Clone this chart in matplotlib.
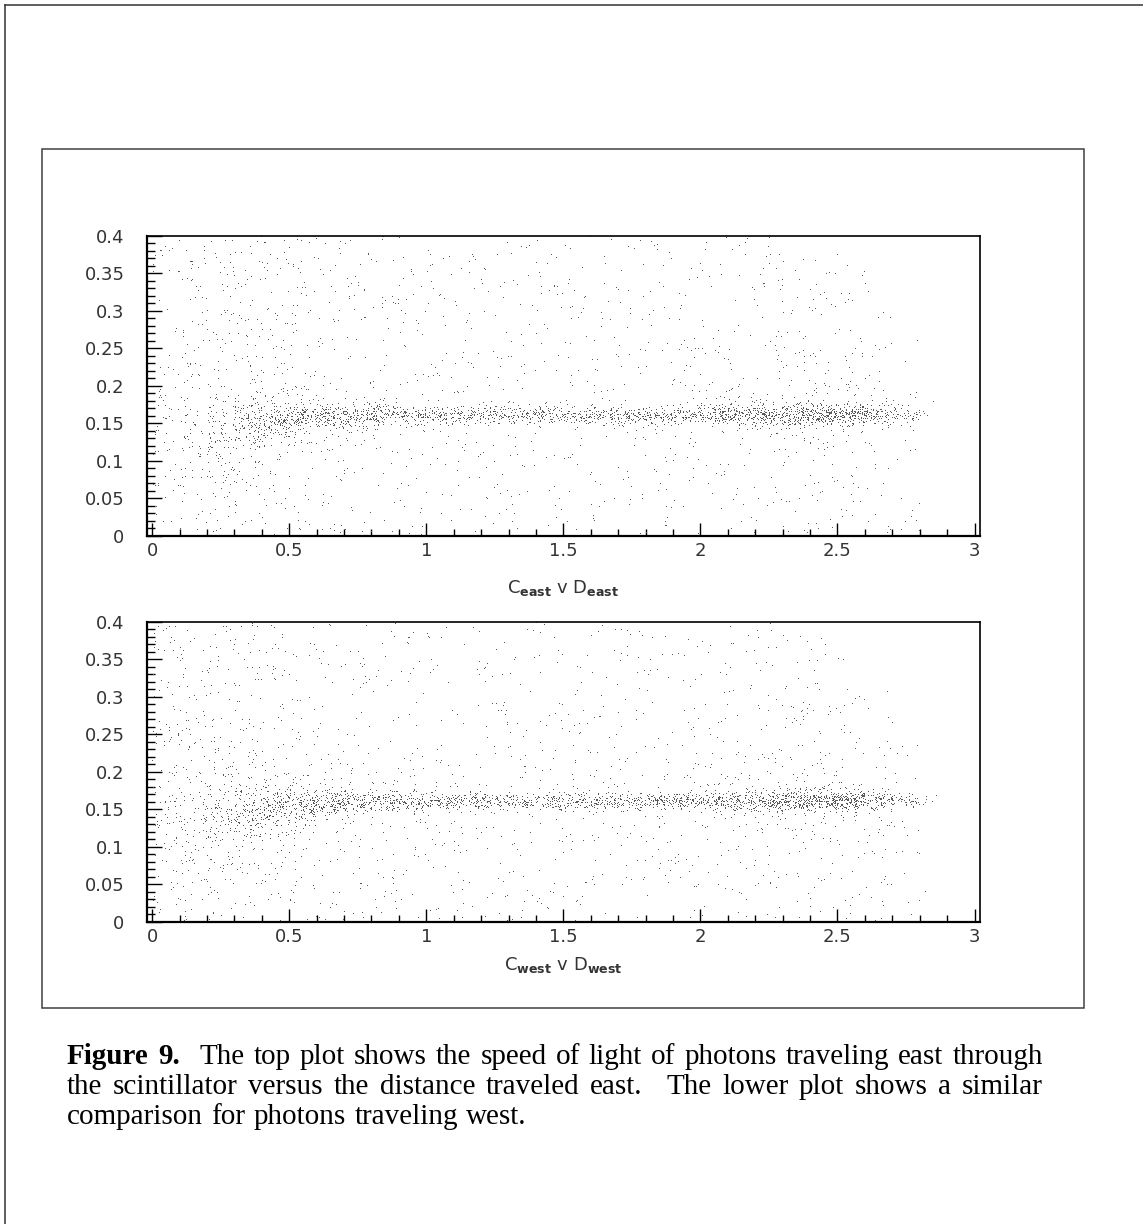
import numpy as np
import matplotlib
matplotlib.use('Agg')
import matplotlib.pyplot as plt
from matplotlib.lines import Line2D
from matplotlib.patches import Rectangle
from matplotlib.ticker import MultipleLocator

W, H = 1143, 1224

# D slices, 0.1 wide, left edges 0.0 .. 2.8
x_lo = np.round(np.arange(0, 2.9, 0.1), 2)

# east: band centre / width / counts per slice, halo around band, flat background
east_band_c = [0.150, 0.140, 0.142, 0.147, 0.152, 0.156, 0.158, 0.159, 0.160, 0.160,
               0.160, 0.160, 0.160, 0.160, 0.160, 0.159, 0.159, 0.159, 0.159, 0.160,
               0.160, 0.160, 0.160, 0.161, 0.161, 0.161, 0.161, 0.161, 0.161]
east_band_w = [0.020, 0.020, 0.017, 0.015, 0.012, 0.010, 0.009, 0.008, 0.007, 0.006,
               0.006, 0.006, 0.006, 0.006, 0.006, 0.006, 0.006, 0.006, 0.006, 0.006,
               0.006, 0.007, 0.007, 0.007, 0.007, 0.007, 0.007, 0.006, 0.005]
east_band_n = [0, 0, 25, 80, 100, 105, 95, 85, 80, 72,
               65, 65, 62, 62, 62, 62, 65, 65, 68, 72,
               80, 90, 105, 120, 135, 130, 75, 40, 8]
east_halo_n = [15, 25, 40, 40, 32, 25, 20, 16, 12, 10,
               8, 8, 8, 8, 8, 8, 8, 8, 8, 10,
               12, 15, 18, 22, 22, 18, 14, 7, 1]
east_bg_n = [55, 85, 100, 92, 78, 62, 52, 46, 42, 40,
             38, 38, 36, 36, 36, 36, 36, 38, 38, 40,
             42, 44, 48, 48, 46, 40, 30, 17, 2]
east_bg_top = [0.40] * 23 + [0.39, 0.38, 0.37, 0.33, 0.27, 0.20]

# west
west_band_c = [0.150, 0.140, 0.140, 0.146, 0.151, 0.155, 0.158, 0.159, 0.160, 0.160,
               0.160, 0.160, 0.160, 0.160, 0.160, 0.160, 0.159, 0.159, 0.159, 0.160,
               0.160, 0.160, 0.160, 0.161, 0.161, 0.161, 0.161, 0.161, 0.161]
west_band_w = [0.020, 0.020, 0.020, 0.017, 0.013, 0.011, 0.009, 0.008, 0.007, 0.006,
               0.006, 0.006, 0.006, 0.006, 0.006, 0.006, 0.006, 0.006, 0.006, 0.006,
               0.006, 0.007, 0.007, 0.007, 0.007, 0.007, 0.007, 0.006, 0.005]
west_band_n = [0, 0, 30, 85, 105, 108, 95, 85, 80, 72,
               68, 65, 62, 62, 62, 62, 65, 65, 68, 72,
               80, 92, 108, 125, 135, 125, 70, 38, 8]
west_halo_n = [25, 32, 45, 45, 32, 25, 20, 16, 12, 10,
               8, 8, 8, 8, 8, 8, 8, 8, 8, 10,
               12, 15, 18, 22, 22, 18, 14, 7, 1]
west_bg_n = [88, 100, 98, 85, 70, 60, 50, 45, 42, 40,
             38, 38, 36, 36, 36, 36, 36, 38, 38, 40,
             42, 44, 48, 48, 46, 40, 30, 17, 2]
west_bg_top = [0.40] * 23 + [0.39, 0.38, 0.36, 0.32, 0.26, 0.20]

x_ticks = [0, 0.5, 1, 1.5, 2, 2.5, 3]
x_tick_labels = ['0', '0.5', '1', '1.5', '2', '2.5', '3']
y_ticks = [0, 0.05, 0.1, 0.15, 0.2, 0.25, 0.3, 0.35, 0.4]
y_tick_labels = ['0', '0.05', '0.1', '0.15', '0.2', '0.25', '0.3', '0.35', '0.4']

caption_head = 'Figure 9.'
caption_lines = ['The top plot shows the speed of light of photons traveling east through',
                 'the scintillator versus the distance traveled east.  The lower plot shows a similar',
                 'comparison for photons traveling west.']


def mix(i, salt):
    # integer bit mixer -> value in [0, 1), fixed for a given (i, salt)
    m = np.uint64(0xFFFFFFFF)
    h = (i.astype(np.uint64) * np.uint64(0x9E3779B1) + np.uint64(salt) * np.uint64(0x85EBCA77)) & m
    h ^= h >> np.uint64(16)
    h = (h * np.uint64(0x7FEB352D)) & m
    h ^= h >> np.uint64(15)
    h = (h * np.uint64(0x846CA68B)) & m
    h ^= h >> np.uint64(16)
    return h.astype(np.float64) / 2.0 ** 32


def spread(lo, band_c, band_w, band_n, halo_n, bg_n, bg_top, salt):
    # lay each slice's counts out inside the slice
    xs, ys = [], []
    k = 0
    for j in range(len(lo)):
        for n, kind in ((band_n[j], 'band'), (halo_n[j], 'halo'), (bg_n[j], 'bg')):
            if n == 0:
                continue
            idx = np.arange(k, k + n)
            k += n
            u = mix(idx, salt)
            v = mix(idx, salt + 1)
            w = mix(idx, salt + 2)
            x = lo[j] + 0.1 * u
            if kind == 'bg':
                y = bg_top[j] * v
            else:
                s = band_w[j] if kind == 'band' else 0.035
                g = np.sqrt(-2 * np.log(1 - v * 0.999)) * np.cos(2 * np.pi * w)
                y = band_c[j] + s * g
            keep = (y > 0) & (y < 0.4) & (x < 2.86)
            xs.append(x[keep])
            ys.append(y[keep])
    return np.concatenate(xs), np.concatenate(ys)


fig = plt.figure(figsize=(W / 100, H / 100), dpi=100)
fig.patch.set_facecolor('white')
plt.rcParams['mathtext.default'] = 'regular'

# page border (left + top) and the plot frame
fig.add_artist(Line2D([5 / W, 5 / W], [0, 1 - 5 / H], transform=fig.transFigure,
                      color='0.2', lw=1.1))
fig.add_artist(Line2D([5 / W, 1], [1 - 5 / H, 1 - 5 / H], transform=fig.transFigure,
                      color='0.2', lw=1.1))
fig.add_artist(Rectangle((42 / W, 1 - 1008 / H), (1084 - 42) / W, (1008 - 149) / H,
                         transform=fig.transFigure, fill=False, ec='0.25', lw=1.1))

tick_font = dict(family='DejaVu Sans', size=13, color='0.2')

panels = [
    (236, east_band_c, east_band_w, east_band_n, east_halo_n, east_bg_n, east_bg_top,
     'east', -0.173, 11),
    (622, west_band_c, west_band_w, west_band_n, west_halo_n, west_bg_n, west_bg_top,
     'west', -0.143, 23),
]

for top_px, bc, bw, bn, hn, gn, gt, side_name, label_y, salt in panels:
    ax = fig.add_axes([146.7 / W, 1 - (top_px + 300) / H, (980 - 146.7) / W, 300 / H])
    x, y = spread(x_lo, bc, bw, bn, hn, gn, gt, salt)
    ax.plot(x, y, ',', color='0.35')
    ax.set_xlim(-0.02, 3.02)
    ax.set_ylim(-0.0005, 0.4)
    ax.set_xticks(x_ticks)
    ax.set_xticklabels(x_tick_labels, **tick_font)
    ax.set_yticks(y_ticks)
    ax.set_yticklabels(y_tick_labels, **tick_font)
    ax.xaxis.set_minor_locator(MultipleLocator(0.1))
    ax.yaxis.set_minor_locator(MultipleLocator(0.01))
    ax.tick_params(axis='x', which='major', direction='in', length=9.5, width=1.0, pad=4)
    ax.tick_params(axis='x', which='minor', direction='in', length=5, width=1.0)
    ax.tick_params(axis='y', which='major', direction='in', length=11, width=1.0, pad=16)
    ax.tick_params(axis='y', which='minor', direction='in', length=5.5, width=1.0)
    for s in ('left', 'bottom'):
        ax.spines[s].set_linewidth(1.6)
    for s in ('top', 'right'):
        ax.spines[s].set_linewidth(1.2)
    label = 'C$_{\\mathbf{%s}}$ v D$_{\\mathbf{%s}}$' % (side_name, side_name)
    ax.set_xlabel(label, fontsize=13, family='DejaVu Sans', color='0.2')
    ax.xaxis.set_label_coords(0.5, label_y)
    ax.xaxis.label.set_va('center')

# caption, justified between the left and right margins
renderer = fig.canvas.get_renderer()
cap_size = 21
x_left, x_right = 67, 1043
base_y = [1064, 1094, 1124]


def text_width(s, weight='normal'):
    t = fig.text(0, 0, s, fontsize=cap_size, family='Liberation Serif', weight=weight)
    wd = t.get_window_extent(renderer).width
    t.remove()
    return wd


def put_words(words, y_px, justify):
    texts = []
    for word, weight in words:
        t = fig.text(0, 1 - y_px / H, word, fontsize=cap_size, family='Liberation Serif',
                     weight=weight, va='baseline', ha='left')
        texts.append(t)
    widths = [t.get_window_extent(renderer).width for t in texts]
    sp = text_width('a a') - 2 * text_width('a')
    gaps_w = [2.2 if w.endswith('.') else 1.0 for w, _ in words[:-1]]
    if justify:
        unit = (x_right - x_left - sum(widths)) / sum(gaps_w)
    else:
        unit = sp * 1.15
    x = x_left
    for t, wd, g in zip(texts, widths, gaps_w + [0]):
        t.set_x(x / W)
        x += wd + g * unit


line1 = [(w, 'bold') for w in caption_head.split()] + \
        [(w, 'normal') for w in caption_lines[0].split()]
put_words(line1, base_y[0], True)
put_words([(w, 'normal') for w in caption_lines[1].split()], base_y[1], True)
put_words([(w, 'normal') for w in caption_lines[2].split()], base_y[2], False)

fig.savefig('out.png', dpi=100)
